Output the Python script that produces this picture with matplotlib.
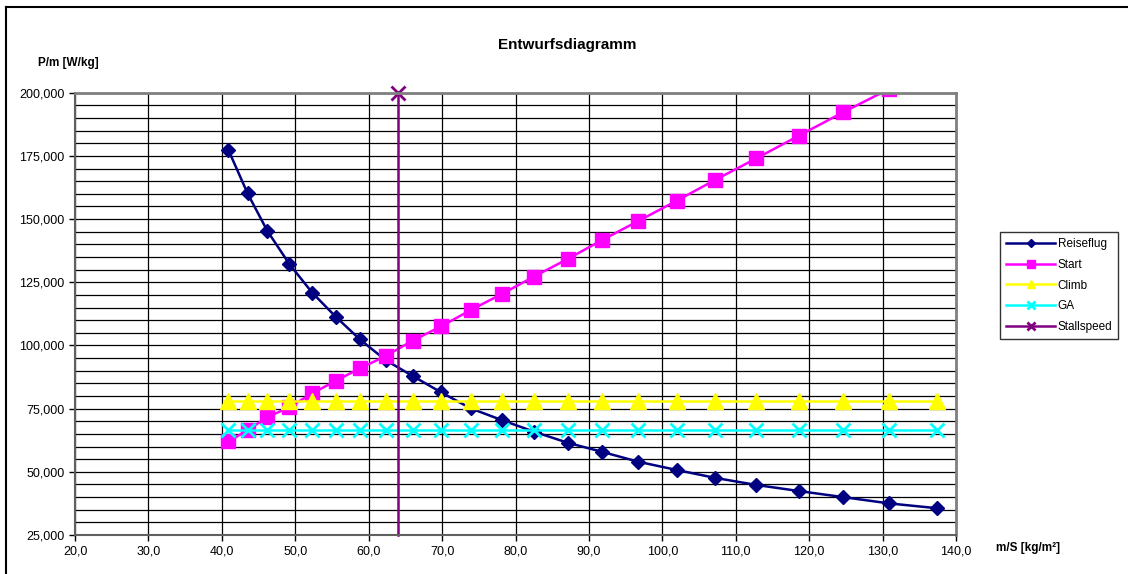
import matplotlib
matplotlib.use("Agg")
import matplotlib.pyplot as plt
from matplotlib.ticker import MultipleLocator, FuncFormatter

plt.rcParams['font.family'] = ['Liberation Sans', 'DejaVu Sans']

# Flächenbelastung m/S [kg/m²]
ms = [40.9, 43.5, 46.2, 49.2, 52.3, 55.5, 58.8, 62.3, 66.0, 69.9, 73.9, 78.1,
      82.5, 87.1, 91.8, 96.7, 102.0, 107.2, 112.8, 118.6, 124.6, 130.9, 137.4]

# Leistungsbelastung P/m [W/kg]
reiseflug = [177.3, 160.2, 145.3, 132.2, 120.9, 111.4, 102.4, 94.2, 87.9, 81.4,
             75.1, 70.5, 65.9, 61.5, 57.9, 54.0, 50.7, 47.6, 44.8, 42.4, 40.0,
             37.5, 35.6]
start = [62.0, 66.5, 71.6, 75.6, 81.0, 86.0, 90.9, 95.8, 101.9, 107.6, 114.0,
         120.3, 127.2, 134.2, 141.7, 149.2, 157.3, 165.5, 174.0, 183.0, 192.2,
         201.5, 211.0]
climb = [78.0] * len(ms)
ga = [66.5] * len(ms)

stall_x = [64.0, 64.0]
stall_y = [25.0, 200.0]

fig = plt.figure(figsize=(11.28, 5.74), dpi=100)
ax = fig.add_axes([75 / 1128, 1 - 535 / 574, (956 - 75) / 1128, (535 - 92.7) / 574])

ax.plot(ms, reiseflug, color='#000080', marker='D', markersize=7.5, lw=1.8, label='Reiseflug')
ax.plot(ms, start, color='#FF00FF', marker='s', markersize=10, lw=1.8, label='Start')
ax.plot(ms, climb, color='#FFFF00', marker='^', markersize=11, lw=1.8, label='Climb')
ax.plot(ms, ga, color='#00FFFF', marker='x', markersize=10, mew=2, lw=1.8, label='GA')
ax.plot(stall_x, stall_y, color='#800080', marker='x', markevery=[1], markersize=10,
        mew=2, lw=1.8, label='Stallspeed', clip_on=False)

ax.set_xlim(20, 140)
ax.set_ylim(25, 200)
ax.xaxis.set_major_locator(MultipleLocator(10))
ax.yaxis.set_major_locator(MultipleLocator(25))
ax.yaxis.set_minor_locator(MultipleLocator(5))
ax.xaxis.set_major_formatter(FuncFormatter(lambda v, p: f"{v:.1f}".replace('.', ',')))
ax.yaxis.set_major_formatter(FuncFormatter(lambda v, p: f"{v:.3f}".replace('.', ',')))

ax.grid(True, which='major', axis='x', color='black', lw=0.9)
ax.grid(True, which='both', axis='y', color='black', lw=0.9)
ax.set_axisbelow(True)
ax.tick_params(axis='both', which='major', labelsize=9, direction='out', length=4, width=1)
ax.tick_params(axis='y', which='minor', length=0)

for side in ['top', 'right']:
    ax.spines[side].set_color('#808080')
    ax.spines[side].set_linewidth(2)
for side in ['left', 'bottom']:
    ax.spines[side].set_color('#606060')
    ax.spines[side].set_linewidth(1.5)

fig.text(567 / 1128, 1 - 45 / 574, 'Entwurfsdiagramm', ha='center', va='center',
         fontsize=11, fontweight='bold')
fig.text(38 / 1128, 1 - 63 / 574, 'P/m [W/kg]', ha='left', va='center',
         fontsize=8.5, fontweight='bold')
fig.text(996 / 1128, 1 - 548 / 574, 'm/S [kg/m²]', ha='left', va='center',
         fontsize=8.5, fontweight='bold')

leg = ax.legend(loc='upper left', bbox_to_anchor=(994 / 1128, 1 - 226 / 574),
                bbox_transform=fig.transFigure, fontsize=8.5, frameon=True,
                fancybox=False, edgecolor='black', markerscale=0.55,
                handlelength=4.2, handletextpad=0.2, borderpad=0.5, labelspacing=0.75)
leg.get_frame().set_linewidth(1)

# chart border (left and top)
fig.add_artist(plt.Line2D([6 / 1128, 6 / 1128], [0, 1 - 7 / 574], color='black', lw=1.5))
fig.add_artist(plt.Line2D([6 / 1128, 1], [1 - 7 / 574, 1 - 7 / 574], color='black', lw=1.5))

fig.savefig('out.png', dpi=100)
